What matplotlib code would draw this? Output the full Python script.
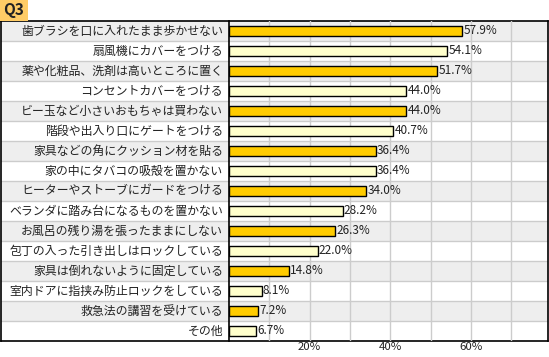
import matplotlib.pyplot as plt
from matplotlib.patches import Rectangle

plt.rcParams['font.family'] = ['Noto Sans CJK JP', 'DejaVu Sans']

labels = [
    '歯ブラシを口に入れたまま歩かせない',
    '扇風機にカバーをつける',
    '薬や化粧品、洗剤は高いところに置く',
    'コンセントカバーをつける',
    'ビー玉など小さいおもちゃは買わない',
    '階段や出入り口にゲートをつける',
    '家具などの角にクッション材を貼る',
    '家の中にタバコの吸殻を置かない',
    'ヒーターやストーブにガードをつける',
    'ベランダに踏み台になるものを置かない',
    'お風呂の残り湯を張ったままにしない',
    '包丁の入った引き出しはロックしている',
    '家具は倒れないように固定している',
    '室内ドアに指挟み防止ロックをしている',
    '救急法の講習を受けている',
    'その他',
]
values = [57.9, 54.1, 51.7, 44.0, 44.0, 40.7, 36.4, 36.4, 34.0, 28.2, 26.3, 22.0, 14.8, 8.1, 7.2, 6.7]
ticks = [20, 40, 60]

W, H = 549, 357
fig = plt.figure(figsize=(W / 100, H / 100), dpi=100)

n = len(labels)
top, bottom = 21, 341
left, axis_x, right = 0.5, 229, 547.5

# header tab
fig.patches.append(Rectangle((0, 1 - 21 / H), 28 / W, 21 / H, transform=fig.transFigure,
                             facecolor='#FFCC66', edgecolor='none'))
fig.text(14 / W, 1 - 10.5 / H, 'Q3', ha='center', va='center', fontsize=11,
         fontweight='bold', color='#222222')

# background (rows + labels)
bg = fig.add_axes([left / W, 1 - bottom / H, (right - left) / W, (bottom - top) / H])
bg.set_xlim(0, 1)
bg.set_ylim(n - 0.5, -0.5)
for i in range(n):
    if i % 2 == 0:
        bg.axhspan(i - 0.5, i + 0.5, color='#EEEEEE', lw=0)
    if i > 0:
        bg.axhline(i - 0.5, color='#CCCCCC', lw=1)
bg.set_xticks([])
bg.set_yticks([])
for s in bg.spines.values():
    s.set_color('black')
    s.set_linewidth(1.2)

lab_x = (axis_x - 6 - left) / (right - left)
for i, lab in enumerate(labels):
    bg.text(lab_x, i, lab, ha='right', va='center', fontsize=8.6, color='#222222')

# plot area
xmax = 79
ax = fig.add_axes([axis_x / W, 1 - bottom / H, (right - axis_x) / W, (bottom - top) / H])
ax.patch.set_alpha(0)
ax.set_xlim(0, xmax)
ax.set_ylim(n - 0.5, -0.5)
for g in range(10, 80, 10):
    ax.axvline(g, color='#CCCCCC', lw=1, zorder=1)

colors = ['#FFCC00' if i % 2 == 0 else '#FFFFCC' for i in range(n)]
ax.barh(range(n), values, height=0.5, color=colors, edgecolor='black', lw=1, zorder=3)
for i, v in enumerate(values):
    ax.text(v + 0.3, i, f'{v:.1f}%', ha='left', va='center', fontsize=8.5, color='#222222', zorder=4)

ax.set_yticks([])
ax.set_xticks(ticks)
ax.set_xticklabels([f'{t}%' for t in ticks], fontsize=8.2, color='#222222')
ax.tick_params(axis='x', length=0, pad=1)
for k in ['top', 'right', 'bottom']:
    ax.spines[k].set_visible(False)
ax.spines['left'].set_color('black')
ax.spines['left'].set_linewidth(1.2)

fig.savefig('out.png', dpi=100)
